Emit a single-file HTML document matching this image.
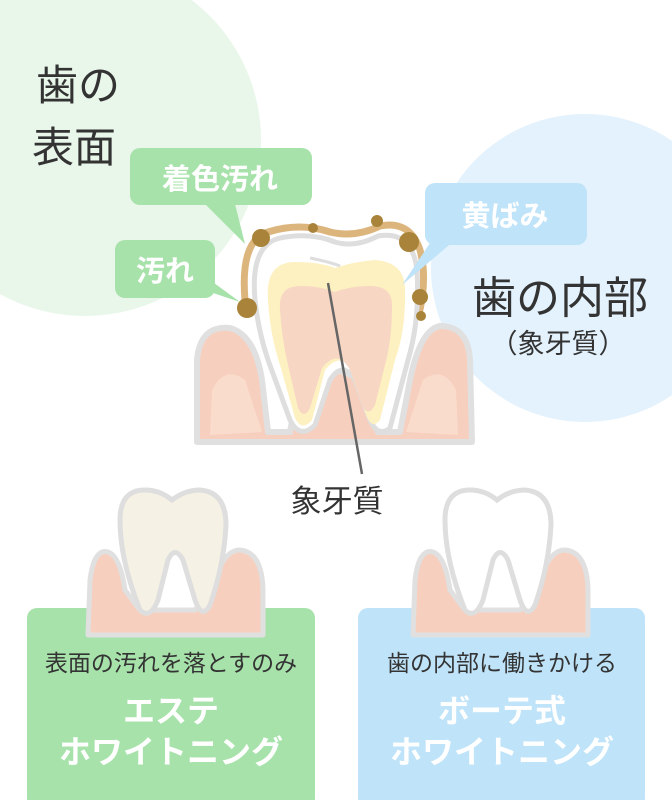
<!DOCTYPE html>
<html><head><meta charset="utf-8"><style>
body{margin:0;width:672px;height:800px;overflow:hidden;background:#fff;font-family:"Liberation Sans","Noto Sans CJK JP",sans-serif}
svg{position:absolute;left:0;top:0}
</style></head><body>
<svg width="672" height="800" viewBox="0 0 672 800" font-family="Liberation Sans, Noto Sans CJK JP, sans-serif">
<circle cx="85" cy="140" r="176" fill="#e9f7ea"/>
<circle cx="585" cy="268" r="154" fill="#e3f2fc"/>
<!-- top gum -->
<path d="M197 442 L197 360 Q200 325 230 328 Q255 335 262 380 L268 432 L290 432 L300 380 Q330 360 360 380 L378 432 L400 432 L410 380 Q420 330 440 326 Q468 326 470 360 L472 442 Z" fill="#f7cfbe" stroke="#e0e0e0" stroke-width="6" stroke-linejoin="round"/>
<path d="M210 435 L212 390 Q225 365 245 380 L262 432 Z M458 435 L456 390 Q443 365 423 380 L406 432 Z" fill="#fadccd"/>
<!-- plaque band -->
<path d="M245 300 Q240 240 268 232 Q300 222 330 232 Q355 238 380 226 Q410 220 420 250 Q428 280 418 318" fill="none" stroke="#dcb57d" stroke-width="7"/>
<!-- tooth -->
<path d="M255 300 Q250 245 280 238 Q310 232 335 242 Q355 248 378 236 Q412 230 417 270 Q420 320 408 360 L390 428 Q378 438 370 420 L355 380 Q343 360 330 380 L315 425 Q300 440 290 420 L268 360 Q258 330 255 300 Z" fill="#fff" stroke="#dedede" stroke-width="5"/>
<path d="M268 300 Q265 262 295 262 Q320 262 335 268 Q352 262 375 260 Q405 262 405 290 Q406 330 395 360 L380 420 Q372 430 366 415 L352 372 Q342 350 325 370 L312 420 Q302 432 295 418 L280 365 Q270 335 268 300 Z" fill="#fdf1c1"/>
<path d="M280 310 Q278 286 300 286 Q320 286 335 292 Q350 286 370 286 Q392 286 392 305 Q392 340 385 365 L375 405 Q368 418 362 405 L350 370 Q338 348 322 368 L310 408 Q304 420 298 408 L288 365 Q282 340 280 310 Z" fill="#f7d6c4"/>
<path d="M310 258 Q330 262 340 266" stroke="#dedede" stroke-width="3" fill="none"/>
<g fill="#a88339">
<circle cx="261" cy="238" r="9"/><circle cx="313" cy="228" r="5"/><circle cx="377" cy="221" r="6"/><circle cx="409" cy="242" r="10"/><circle cx="420" cy="297" r="8"/><circle cx="421" cy="316" r="5"/><circle cx="247" cy="308" r="10"/>
</g>
<line x1="328" y1="283" x2="362" y2="474" stroke="#666" stroke-width="2.5"/>
<!-- bubbles -->
<rect x="130" y="148" width="182" height="57" rx="10" fill="#a8e2ab"/>
<path d="M205 204 L245 244 L235 204 Z" fill="#a8e2ab"/>
<text x="220" y="189" font-size="29" font-weight="bold" fill="#fff" text-anchor="middle">着色汚れ</text>
<rect x="115" y="240" width="100" height="58" rx="10" fill="#a8e2ab"/>
<path d="M210 280 L240 302 L210 292 Z" fill="#a8e2ab"/>
<text x="165" y="281" font-size="29" font-weight="bold" fill="#fff" text-anchor="middle">汚れ</text>
<rect x="425" y="183" width="162" height="62" rx="10" fill="#bfe3f8"/>
<path d="M432 240 L402 285 L455 240 Z" fill="#bfe3f8"/>
<text x="505" y="226" font-size="29" font-weight="bold" fill="#fff" text-anchor="middle">黄ばみ</text>
<text x="36" y="100" font-size="42" fill="#333">歯の</text>
<text x="32" y="162" font-size="42" fill="#333">表面</text>
<text x="560" y="313" font-size="44" fill="#333" text-anchor="middle">歯の内部</text>
<text x="558" y="353" font-size="27" fill="#333" text-anchor="middle">（象牙質）</text>
<text x="337" y="512" font-size="31" fill="#333" text-anchor="middle">象牙質</text>
<!-- bottom boxes -->
<rect x="27" y="608" width="288" height="200" rx="10" fill="#a8e2ab"/>
<rect x="358" y="608" width="287" height="200" rx="10" fill="#bfe3f8"/>
<!-- bottom left tooth -->
<path d="M88 635 L90 580 Q94 548 108 552 Q120 556 125 590 L140 610 L195 610 L212 590 Q222 550 240 550 Q262 552 263 590 L263 635 Z" fill="#f7cfbe" stroke="#e0e0e0" stroke-width="5" stroke-linejoin="round"/>
<path d="M140 610 Q120 560 120 520 Q120 490 145 490 Q160 490 172 500 Q185 490 200 490 Q226 492 226 525 Q224 565 210 605 Q202 620 195 600 L183 560 Q175 545 168 560 L158 600 Q150 620 140 610 Z" fill="#f5f1e4" stroke="#dedede" stroke-width="5"/>
<!-- bottom right tooth -->
<path d="M413 635 L415 580 Q419 548 433 552 Q445 556 450 590 L465 610 L520 610 L537 590 Q547 550 565 550 Q587 552 588 590 L588 635 Z" fill="#f7cfbe" stroke="#e0e0e0" stroke-width="5" stroke-linejoin="round"/>
<path d="M465 610 Q445 560 445 520 Q445 490 470 490 Q485 490 497 500 Q510 490 525 490 Q551 492 551 525 Q549 565 535 605 Q527 620 520 600 L508 560 Q500 545 493 560 L483 600 Q475 620 465 610 Z" fill="#fff" stroke="#dedede" stroke-width="5"/>
<rect x="27" y="608" width="288" height="200" rx="10" fill="#a8e2ab" clip-path="url(#c)" opacity="0"/>
<text x="171" y="671" font-size="23" fill="#333" text-anchor="middle">表面の汚れを落とすのみ</text>
<text x="171" y="722" font-size="32" font-weight="bold" fill="#fff" text-anchor="middle">エステ</text>
<text x="171" y="763" font-size="32" font-weight="bold" fill="#fff" text-anchor="middle">ホワイトニング</text>
<text x="502" y="671" font-size="23" fill="#333" text-anchor="middle">歯の内部に働きかける</text>
<text x="502" y="722" font-size="32" font-weight="bold" fill="#fff" text-anchor="middle">ボーテ式</text>
<text x="502" y="763" font-size="32" font-weight="bold" fill="#fff" text-anchor="middle">ホワイトニング</text>
</svg>
</body></html>
